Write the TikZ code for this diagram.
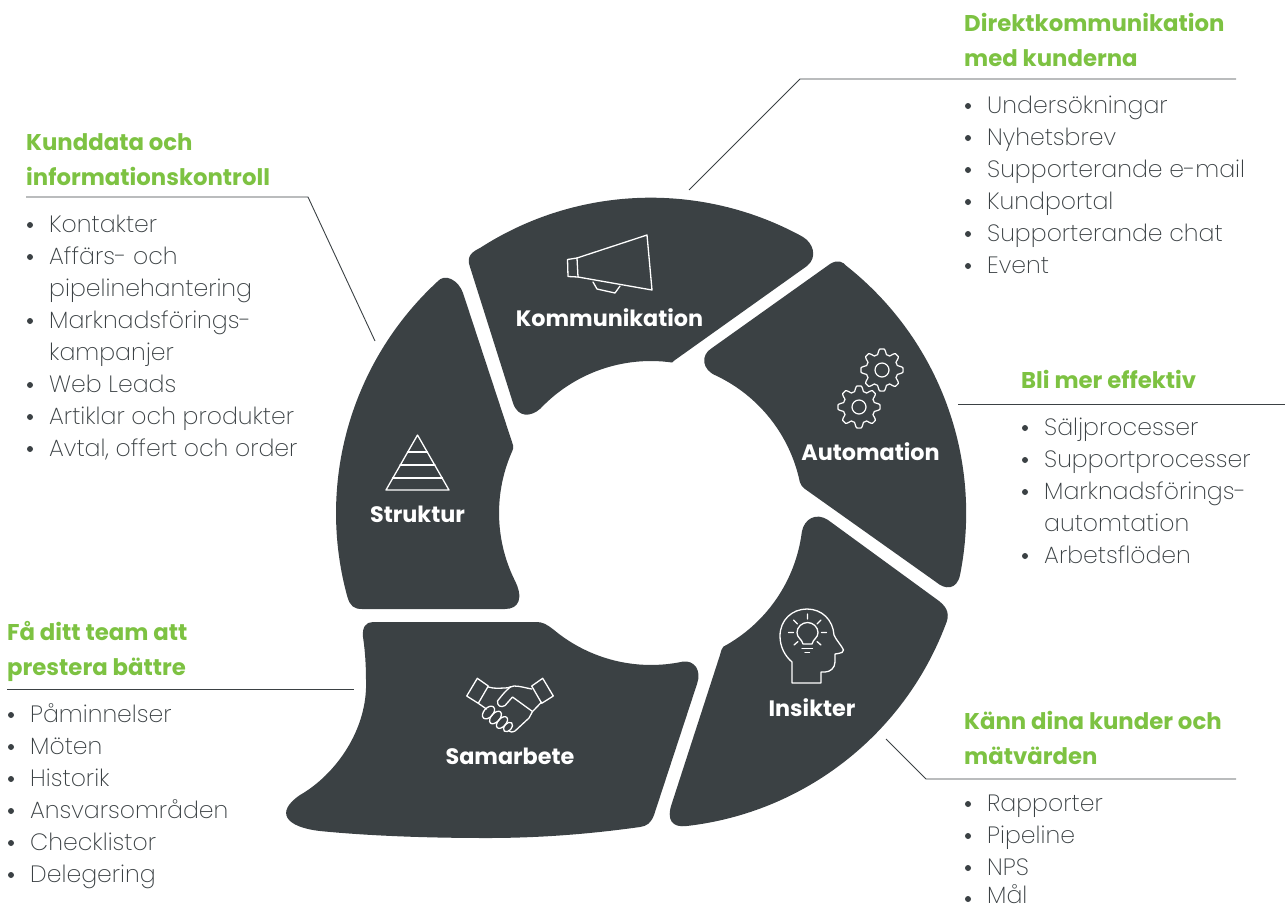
\documentclass[tikz,border=0pt]{standalone}
\usepackage{fontspec}
\setmainfont{Poppins}
\newfontfamily\lightf{Poppins ExtraLight}
\newfontfamily\boldf{Poppins}[UprightFont=*,BoldFont=* Bold]
\definecolor{seg}{HTML}{3B4144}
\definecolor{grn}{HTML}{7DC242}
\definecolor{txt}{HTML}{3B4144}
\tikzset{
 segshape/.style={fill=seg,draw=none},
 icon/.style={draw=white,line width=1.3pt,line join=round,line cap=round},
 lead/.style={draw=seg,line width=0.9pt},
 seglabel/.style={anchor=base,text=white,font=\boldf\bfseries\fontsize{22.3}{24}\selectfont,inner sep=0pt},
 head/.style={anchor=base west,text=grn,font=\boldf\bfseries\fontsize{22.8}{24}\selectfont,inner sep=0pt},
 itemtext/.style={anchor=base west,text=txt,font=\lightf\fontsize{23.6}{24}\selectfont,inner sep=0pt},
}
\begin{document}
\begin{tikzpicture}[x=1pt,y=1pt,yscale=-1]
\useasboundingbox (0,0) rectangle (1285,906);

% segments
\path[segshape] (480.1,247.9) arc[start angle=237.2,end angle=298.9,radius=315]
  .. controls (813,243) and (818,257) .. (807,266) -- (675,360)
  .. controls (674,361) and (673,362) .. (672,362.5)
  arc[start angle=278,end angle=223.4,radius=152]
  .. controls (531,417) and (518,418) .. (513,403) -- (470,267)
  .. controls (466,256) and (472,252) .. (480.1,247.9) -- cycle;
\path[segshape] (846.4,265.9) arc[start angle=308.3,end angle=371.3,radius=315]
  .. controls (957,590) and (945,590) .. (936,582) -- (805,489)
  .. controls (802,487) and (801,485) .. (799.8,481.9)
  arc[start angle=348.2,end angle=295.4,radius=152]
  .. controls (702,370) and (700,355) .. (712,348) -- (830,264)
  .. controls (838,259) and (843,262) .. (846.4,265.9) -- cycle;
\path[segshape] (945.3,625.4) arc[start angle=20.9,end angle=83.4,radius=315]
  .. controls (672,828) and (666,820) .. (672,803) -- (720,655)
  .. controls (721,651) and (722,648) .. (723.3,646.7)
  arc[start angle=61.6,end angle=7.2,radius=152]
  .. controls (804,519) and (816,512) .. (828,520) -- (939,601)
  .. controls (948,608) and (950,615) .. (945.3,625.4) -- cycle;
\path[segshape] (373,622) -- (536,622) .. controls (543,622) and (546,624) .. (553.3,629.4)
  arc[start angle=130,end angle=77.9,radius=152]
  .. controls (694,660) and (702,670) .. (697,684) -- (654,815)
  .. controls (651,823) and (647,826) .. (640,827)
  .. controls (590,834) and (540,838) .. (487,838)
  .. controls (430,838) and (370,836) .. (320,831)
  .. controls (285,827) and (275,812) .. (300,795)
  .. controls (335,775) and (368,730) .. (366,680)
  .. controls (366,665) and (365,650) .. (363,637)
  .. controls (362,627) and (366,622) .. (373,622) -- cycle;
\path[segshape] (437,282) arc[start angle=227.2,end angle=164.6,radius=315]
  .. controls (350,606) and (354,609) .. (362,609) -- (505,609)
  .. controls (519,609) and (524,598) .. (514.3,579.4)
  arc[start angle=154.1,end angle=204.4,radius=152]
  .. controls (514,447) and (513,444) .. (512,442) -- (463,293)
  .. controls (459,281) and (445,272) .. (437,282) -- cycle;

% megaphone
\draw[icon] (577,258) -- (647,235) -- (652,290) -- (578,277) -- cycle;
\draw[icon] (577,258) -- (567.5,259.5) -- (568,276.5) -- (578,277);
\draw[icon] (593,282) -- (597,289) -- (615,293) -- (620,286);
% gears
\foreach \cx/\cy in {882/370,859/407}{
 \draw[icon,line width=1.2pt] plot[domain=0:360,samples=193]
  ({\cx+(18.5+2.6*max(min(1.6*cos(8*\x),1),-1))*cos(\x)},{\cy+(18.5+2.6*max(min(1.6*cos(8*\x),1),-1))*sin(\x)}) -- cycle;
 \draw[icon,line width=1.2pt] (\cx,\cy) circle (7);
}
% head
\draw[icon] (792,683) -- (792,662) .. controls (785,656) and (780,647) .. (780,636)
  .. controls (780,620) and (792,609) .. (807,609)
  .. controls (822,609) and (833,620) .. (834,635)
  .. controls (836,640) and (842,646) .. (843.5,650)
  .. controls (844,652) and (842,653) .. (835,654) -- (835,662)
  .. controls (835,668) and (830,672) .. (825,672) -- (821,672) -- (821,683) -- cycle;
\draw[icon] (803,644) .. controls (802,639) and (797,638) .. (797,632.5)
  .. controls (797,627) and (802,622.5) .. (807.5,622.5)
  .. controls (813,622.5) and (818,627) .. (818,632.5)
  .. controls (818,638) and (813,639) .. (812,644) -- cycle;
\draw[icon] (802,648.5) -- (812.5,648.5) (805,652.5) -- (809.5,652.5);
\draw[icon] (807.5,614) -- (807.5,619) (788.5,632.5) -- (793.5,632.5) (821.5,632.5) -- (826.5,632.5)
  (793.5,620) -- (797.5,624) (821,620) -- (817,624) (794,645) -- (798,641.5) (821,645) -- (817,641.5);
% handshake
\draw[icon] (477.3,678.3) -- (488.3,686) -- (478.3,703.3) -- (466.7,696) -- cycle;
\draw[icon] (542.7,678.3) -- (531.7,686) -- (541.7,703.3) -- (553.3,696) -- cycle;
\draw[icon] (488.3,687) .. controls (495,689) and (500,688) .. (505,688)
  .. controls (510,688) and (511,686) .. (514,686) .. controls (520,686) and (526,688) .. (531.7,689);
\draw[icon] (511,686.5) .. controls (504,692) and (500,698) .. (497.5,701)
  .. controls (497,706) and (501,708) .. (505,705.5) -- (512.5,697)
  -- (532.5,711.5) -- (529,718) -- (515,731) .. controls (512,732.5) and (510,732) .. (509,731);
\draw[icon] (541.7,702) -- (532.5,711.5);
\draw[icon] (478.3,703.3) -- (486.5,709);
\draw[icon] (488.5,712.5) ellipse[x radius=7.5,y radius=4.6,rotate=-48];
\draw[icon] (495.5,717.5) ellipse[x radius=7.5,y radius=4.3,rotate=-48];
\draw[icon] (502,722.5) ellipse[x radius=7,y radius=4,rotate=-48];
\draw[icon] (508,727) ellipse[x radius=5.5,y radius=3.6,rotate=-48];
% pyramid
\draw[icon] (417.5,435) -- (386,490) -- (449,490) -- cycle;
\draw[icon] (407.5,452) -- (427.5,452) (400,465) -- (435,465) (392.5,478) -- (442.5,478);

% segment labels
\node[seglabel] (kom) at (609.5,326) {Kommunikation};
\node[seglabel] (aut) at (870.5,460) {Automation};
\node[seglabel] (ins) at (812,716) {Insikter};
\node[seglabel] (sam) at (510,764) {Samarbete};
\node[seglabel] (str) at (417.5,522.5) {Struktur};

% leaders
\coordinate (k1) at (689,190); \coordinate (k2) at (800,79); \coordinate (k3) at (1236,79);
\coordinate (s1) at (375,341); \coordinate (s2) at (308,197); \coordinate (s3) at (26,197);
\coordinate (a1) at (958,404); \coordinate (a2) at (1285,404);
\coordinate (b1) at (7,689); \coordinate (b2) at (354,689);
\coordinate (i1) at (886,739); \coordinate (i2) at (926,779); \coordinate (i3) at (1236,779);
\draw[lead] (k1) -- (k2) -- (k3);
\draw[lead] (s1) -- (s2) -- (s3);
\draw[lead] (a1) -- (a2);
\draw[lead] (b1) -- (b2);
\draw[lead] (i1) -- (i2) -- (i3);

% Direktkommunikation
\node[head] (h1a) at (964,31) {Direktkommunikation};
\node[head] (h1b) at (964,66) {med kunderna};
\foreach \n/\y/\t in {1/113/Undersökningar,2/145/Nyhetsbrev,3/177/Supporterande e-mail,4/209/Kundportal,5/241/Supporterande chat,6/273/Event}{
 \node[itemtext] (ka\n) at (987,\y) {\t};
 \fill[seg] (968,\y-7) circle (3);
}
% Kunddata
\node[head] (h2a) at (26,150) {Kunddata och};
\node[head] (h2b) at (26,185) {informationskontroll};
\foreach \n/\y/\t in {1/232/Kontakter,2/264/Affärs- och,4/328/Marknadsförings-,6/392/Web Leads,7/424/Artiklar och produkter,8/456/{Avtal, offert och order}}{
 \node[itemtext] (kb\n) at (49,\y) {\t};
 \fill[seg] (30,\y-7) circle (3);
}
\node[itemtext] (kb3) at (49,296) {pipelinehantering};
\node[itemtext] (kb5) at (49,360) {kampanjer};
% Bli mer effektiv
\node[head] (h3) at (1021,388) {Bli mer effektiv};
\foreach \n/\y/\t in {1/435/Säljprocesser,2/467/Supportprocesser,3/499/Marknadsförings-,5/563/Arbetsflöden}{
 \node[itemtext] (kc\n) at (1044,\y) {\t};
 \fill[seg] (1025,\y-7) circle (3);
}
\node[itemtext] (kc4) at (1044,531) {automtation};
% Samarbete
\node[head] (h4a) at (7,640) {Få ditt team att};
\node[head] (h4b) at (7,675) {prestera bättre};
\foreach \n/\y/\t in {1/722/Påminnelser,2/754/Möten,3/786/Historik,4/818/Ansvarsområden,5/850/Checklistor,6/882/Delegering}{
 \node[itemtext] (kd\n) at (30,\y) {\t};
 \fill[seg] (11,\y-7) circle (3);
}
% Insikter
\node[head] (h5a) at (964,729) {Känn dina kunder och};
\node[head] (h5b) at (964,764) {mätvärden};
\foreach \n/\y/\t in {1/811/Rapporter,2/843/Pipeline,3/875/NPS}{
 \node[itemtext] (ke\n) at (987,\y) {\t};
 \fill[seg] (968,\y-7) circle (3);
}
\node[itemtext] (ke4) at (987,903) {Mål};
\fill[seg] (968,899) circle (3);
\end{tikzpicture}
\end{document}
